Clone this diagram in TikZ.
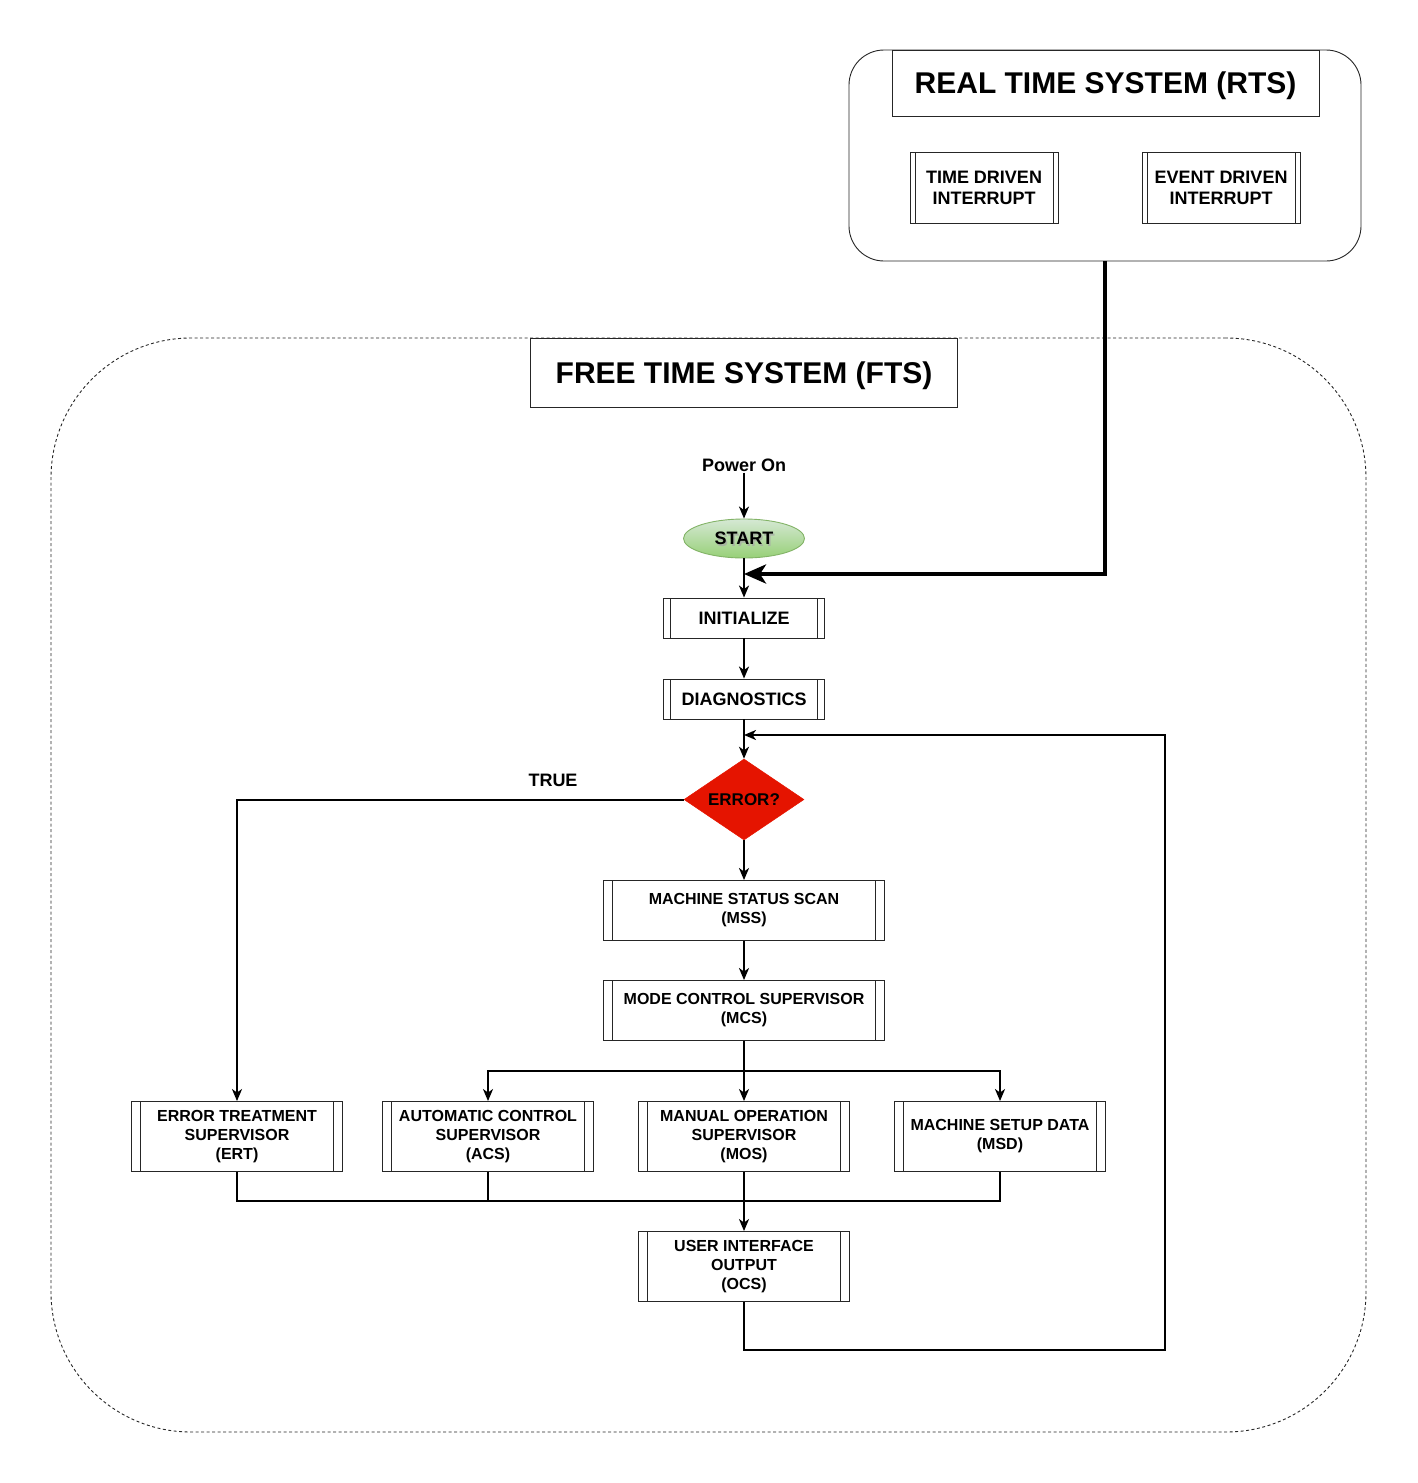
\documentclass[tikz,border=0pt]{standalone}
\usepackage{fontspec}
\setmainfont{Liberation Sans}
\usetikzlibrary{arrows.meta,shapes.geometric,calc}
\definecolor{errred}{HTML}{E51400}
\definecolor{gfillA}{HTML}{D5E8D4}
\definecolor{gfillB}{HTML}{97D077}
\definecolor{gborder}{HTML}{82B366}
\tikzset{
  procoff/.initial=8pt,
  proc/.style={draw=black!85, line width=0.9pt, rectangle, fill=white, inner sep=0pt, align=center,
    font=\bfseries\fontsize{16}{19}\selectfont,
    path picture={\draw[black!85,line width=0.9pt]
      ([xshift=\pgfkeysvalueof{/tikz/procoff}]path picture bounding box.north west) --
      ([xshift=\pgfkeysvalueof{/tikz/procoff}]path picture bounding box.south west)
      ([xshift=-\pgfkeysvalueof{/tikz/procoff}]path picture bounding box.north east) --
      ([xshift=-\pgfkeysvalueof{/tikz/procoff}]path picture bounding box.south east);}},
  titlebox/.style={draw=black!85, line width=0.9pt, fill=white, inner sep=0pt, text depth=0pt,
    font=\bfseries\fontsize{30}{34}\selectfont},
  arr/.style={-{Stealth[length=12pt,width=10pt,inset=3.5pt]}, line width=2pt},
  plain/.style={line width=2pt},
  bigarr/.style={-{Stealth[length=22pt,width=19pt,inset=6pt]}, line width=4pt},
  lbl/.style={inner sep=1pt, font=\bfseries\fontsize{18}{21}\selectfont},
}
\begin{document}
\begin{tikzpicture}[x=1pt,y=-1pt]
\useasboundingbox (0,0) rectangle (1417,1483);

% Free time system container
\node[draw=black!85, line width=0.9pt, dash pattern=on 3pt off 2.5pt, rounded corners=140pt,
      minimum width=1315pt, minimum height=1094pt, inner sep=0pt] (fts) at (708.5,885) {};

% Real time system container
\node[draw=black!85, line width=0.9pt, rounded corners=35pt, fill=white,
      minimum width=512pt, minimum height=211pt, inner sep=0pt] (rts) at (1105,155.5) {};
\node[titlebox, minimum width=427pt, minimum height=66pt] (rtstitle) at (1105.5,83) {REAL TIME SYSTEM (RTS)};
\node[proc, procoff=5pt, minimum width=148pt, minimum height=71pt, font=\bfseries\fontsize{18}{21}\selectfont] (tdi) at (984,187.5) {TIME DRIVEN\\INTERRUPT};
\node[proc, procoff=5pt, minimum width=158pt, minimum height=71pt, font=\bfseries\fontsize{18}{21}\selectfont] (edi) at (1221,187.5) {EVENT DRIVEN\\INTERRUPT};

\node[titlebox, minimum width=427pt, minimum height=69pt] (ftstitle) at (744,372.5) {FREE TIME SYSTEM (FTS)};

% flow
\node[lbl] (poweron) at (744,465) {Power On};
\node[ellipse, draw=gborder, line width=0.9pt, top color=gfillA, bottom color=gfillB,
      minimum width=121pt, minimum height=39pt, inner sep=0pt] (start) at (744,538.5) {};
\node[lbl, text=black!35, opacity=0.7] (startshadow) at (745.5,540.5) {START};
\node[lbl] (starttext) at (744,538.5) {START};

\node[proc, procoff=7pt, minimum width=161pt, minimum height=40pt, font=\bfseries\fontsize{18}{21}\selectfont] (init) at (744,618) {INITIALIZE};
\node[proc, procoff=7pt, minimum width=161pt, minimum height=40pt, font=\bfseries\fontsize{18}{21}\selectfont] (diag) at (744,699) {DIAGNOSTICS};

\node[diamond, aspect=1.5, fill=errred, draw=errred, line width=0.5pt, inner sep=0pt,
      minimum width=120pt, minimum height=81pt, font=\bfseries\fontsize{17}{20}\selectfont] (err) at (744,799.5) {ERROR?};

\node[proc, procoff=9pt, minimum width=281pt, minimum height=60pt] (mss) at (744,910.5) {MACHINE STATUS SCAN\\(MSS)};
\node[proc, procoff=9pt, minimum width=281pt, minimum height=60pt] (mcs) at (744,1010.5) {MODE CONTROL SUPERVISOR\\(MCS)};

\node[proc, procoff=9pt, minimum width=211pt, minimum height=70pt] (ert) at (237,1136.5) {ERROR TREATMENT\\SUPERVISOR\\(ERT)};
\node[proc, procoff=9pt, minimum width=211pt, minimum height=70pt] (acs) at (488,1136.5) {AUTOMATIC CONTROL\\SUPERVISOR\\(ACS)};
\node[proc, procoff=9pt, minimum width=211pt, minimum height=70pt] (mos) at (744,1136.5) {MANUAL OPERATION\\SUPERVISOR\\(MOS)};
\node[proc, procoff=9pt, minimum width=211pt, minimum height=70pt] (msd) at (1000,1136.5) {MACHINE SETUP DATA\\(MSD)};
\node[proc, procoff=9pt, minimum width=211pt, minimum height=70pt] (ocs) at (744,1266.5) {USER INTERFACE\\OUTPUT\\(OCS)};

\node[lbl] (truelbl) at (553,780) {TRUE};

% coordinates
\coordinate (rtsin) at (744,574);
\coordinate (loopin) at (744,735);
\coordinate (loopc) at (1165,1350);
\coordinate (split) at (744,1071);
\coordinate (merge) at (744,1201);

% connectors
\draw[arr] (poweron.south) -- (start.north);
\draw[arr] (start.south) -- (init.north);
\draw[bigarr] (rts.south) |- (rtsin);
\draw[arr] (init.south) -- (diag.north);
\draw[arr] (diag.south) -- (err.north);
\draw[arr] (err.west) -| (ert.north);
\draw[arr] (err.south) -- (mss.north);
\draw[arr] (mss.south) -- (mcs.north);
\draw[plain] (mcs.south) -- (split);
\draw[arr] (split) -| (acs.north);
\draw[arr] (split) -| (msd.north);
\draw[arr] (split) -- (mos.north);
\draw[plain] (ert.south) |- (merge);
\draw[plain] (msd.south) |- (merge);
\draw[plain] (acs.south) -- (acs.south |- merge);
\draw[arr] (mos.south) -- (ocs.north);
\draw[arr] (ocs.south) |- (loopc) |- (loopin);
\end{tikzpicture}
\end{document}
